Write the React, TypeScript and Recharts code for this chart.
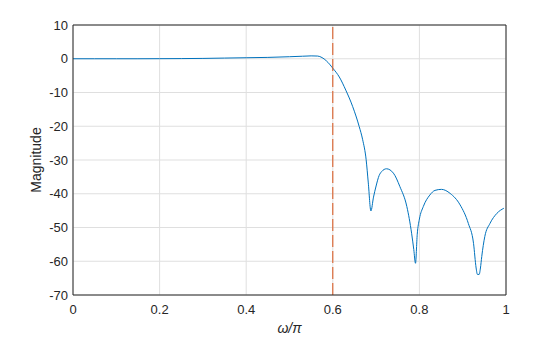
import {
  CartesianGrid,
  Line,
  LineChart,
  ReferenceLine,
  XAxis,
  YAxis,
} from "recharts";

// normalised frequency (omega / pi)
const freq = [
  0, 0.05, 0.1, 0.15, 0.2, 0.25, 0.3, 0.35, 0.4, 0.45, 0.5, 0.53, 0.55, 0.565,
  0.575, 0.585, 0.6, 0.615, 0.63, 0.646, 0.661, 0.669, 0.677, 0.682, 0.688,
  0.694, 0.7, 0.707, 0.713, 0.724, 0.74, 0.755, 0.771, 0.782, 0.787, 0.791,
  0.795, 0.8, 0.809, 0.824, 0.836, 0.851, 0.871, 0.894, 0.913, 0.925, 0.931,
  0.934, 0.938, 0.941, 0.944, 0.951, 0.963, 0.979, 0.995,
];

// magnitude in dB
const magnitude = [
  0, 0, 0, 0, 0.02, 0.05, 0.1, 0.2, 0.3, 0.4, 0.6, 0.75, 0.85, 0.8, 0.35, -0.6,
  -2.8, -5.4, -9.3, -14.2, -20.1, -24.0, -29.9, -36.8, -45.1, -41, -37.7,
  -34.6, -33.4, -32.6, -33.9, -37.9, -43.8, -51.7, -56.5, -60.6, -52, -47.5,
  -43.8, -40.4, -39, -38.7, -39.9, -43.3, -48.8, -54.7, -62, -63.9, -63.9,
  -62, -58.6, -52.7, -48.8, -45.8, -44.3,
];

const xTicks = [0, 0.2, 0.4, 0.6, 0.8, 1];
const yTicks = [-70, -60, -50, -40, -30, -20, -10, 0, 10];
const cutoff = 0.6;

const data = freq.map((f, i) => ({ f, mag: magnitude[i] }));

const axisColor = "#262626";
const tickStyle = { fill: axisColor, fontSize: 13 };

export default function App() {
  return (
    <div
      style={{
        position: "absolute",
        left: 0,
        top: 0,
        width: 560,
        height: 337,
        background: "#fff",
        fontFamily: "'Liberation Sans', Arial, sans-serif",
      }}
    >
      <LineChart
        width={560}
        height={337}
        data={data}
        margin={{ top: 25, right: 54, bottom: 0, left: 0 }}
      >
        <CartesianGrid stroke="#dfdfdf" />
        <XAxis
          dataKey="f"
          type="number"
          domain={[0, 1]}
          ticks={xTicks}
          height={42}
          stroke={axisColor}
          tick={tickStyle}
          tickLine={false}
          tickSize={0}
          tickMargin={10}
          label={{
            value: "ω/π",
            position: "insideBottom",
            offset: 4,
            fill: axisColor,
            fontSize: 14,
            fontStyle: "italic",
          }}
        />
        {/* inward tick marks on all four sides */}
        <XAxis
          xAxisId="bm"
          orientation="bottom"
          mirror
          type="number"
          domain={[0, 1]}
          ticks={xTicks}
          stroke={axisColor}
          axisLine={false}
          tick={false}
          tickSize={5}
        />
        <XAxis
          xAxisId="tm"
          orientation="top"
          mirror
          type="number"
          domain={[0, 1]}
          ticks={xTicks}
          stroke={axisColor}
          tick={false}
          tickSize={5}
        />
        <YAxis
          type="number"
          domain={[-70, 10]}
          ticks={yTicks}
          width={73}
          stroke={axisColor}
          tick={tickStyle}
          tickLine={false}
          tickSize={0}
          tickMargin={5}
          label={{
            value: "Magnitude",
            angle: -90,
            position: "center",
            fill: axisColor,
            fontSize: 14,
          }}
        />
        <YAxis
          yAxisId="lm"
          orientation="left"
          mirror
          type="number"
          domain={[-70, 10]}
          ticks={yTicks}
          stroke={axisColor}
          axisLine={false}
          tick={false}
          tickSize={5}
        />
        <YAxis
          yAxisId="rm"
          orientation="right"
          mirror
          type="number"
          domain={[-70, 10]}
          ticks={yTicks}
          stroke={axisColor}
          tick={false}
          tickSize={5}
        />
        <Line
          type="monotone"
          dataKey="mag"
          stroke="#0072BD"
          strokeWidth={1}
          dot={false}
          isAnimationActive={false}
        />
        <ReferenceLine
          x={cutoff}
          stroke="#D95319"
          strokeWidth={1}
          strokeDasharray="12 4"
        />
      </LineChart>
    </div>
  );
}
